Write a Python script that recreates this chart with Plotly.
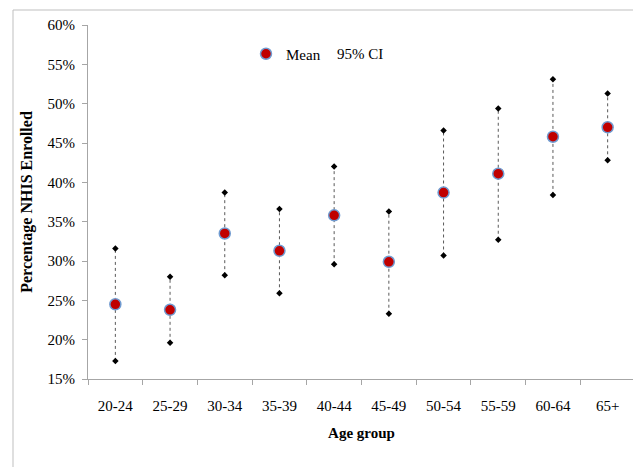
import plotly.graph_objects as go

age_groups = ["20-24", "25-29", "30-34", "35-39", "40-44", "45-49", "50-54", "55-59", "60-64", "65+"]
mean_pct = [24.5, 23.8, 33.5, 31.3, 35.8, 29.9, 38.7, 41.1, 45.8, 47.0]
ci_low = [17.3, 19.6, 28.2, 25.9, 29.6, 23.3, 30.7, 32.7, 38.4, 42.8]
ci_high = [31.6, 28.0, 38.7, 36.6, 42.0, 36.3, 46.6, 49.4, 53.1, 51.3]

# build CI segments from data
ci_x, ci_y = [], []
for c, lo, hi in zip(age_groups, ci_low, ci_high):
    ci_x += [c, c, None]
    ci_y += [lo, hi, None]

serif = "Liberation Serif, Times New Roman, serif"

# page has an 8px body margin; figure coordinates are offset accordingly
W, H = 633, 459
L, R, T, B = 80, 6, 17, 88
PW, PH = W - L - R, H - T - B

fig = go.Figure()
fig.add_trace(go.Scatter(
    x=ci_x, y=ci_y, mode="lines+markers", name="95% CI",
    line=dict(color="#595959", width=1, dash="dot"),
    marker=dict(symbol="diamond", size=5, color="black"),
    showlegend=False, connectgaps=False,
))
fig.add_trace(go.Scatter(
    x=age_groups, y=mean_pct, mode="markers", name="Mean",
    marker=dict(size=11, color="#C00000", line=dict(color="#6F9BD1", width=1.5)),
))

fig.update_layout(
    width=W, height=H,
    margin=dict(l=L, r=R, t=T, b=B),
    paper_bgcolor="white", plot_bgcolor="white",
    font=dict(family=serif, size=15, color="black"),
    showlegend=True,
    legend=dict(x=(238 - L) / PW, y=(T + PH - 46) / PH, xanchor="left", yanchor="middle",
                bgcolor="rgba(0,0,0,0)", font=dict(size=15, family=serif),
                itemwidth=30, tracegroupgap=0),
    xaxis=dict(
        type="category", range=[-0.5, 9.5],
        showline=True, linecolor="#A6A6A6", linewidth=1,
        ticks="outside", ticklen=5, tickcolor="#A6A6A6", tickson="boundaries",
        showgrid=False, zeroline=False,
        ticklabelstandoff=13,
        tickfont=dict(size=15, family=serif),
        title=dict(text="<b>Age group</b>", font=dict(size=15, family=serif), standoff=14),
    ),
    yaxis=dict(
        range=[15, 60], dtick=5, ticksuffix="%",
        showline=True, linecolor="#A6A6A6", linewidth=1,
        ticks="outside", ticklen=5, tickcolor="#A6A6A6",
        showgrid=False, zeroline=False,
        ticklabelstandoff=4,
        tickfont=dict(size=15, family=serif),
        title=dict(text="<b>Percentage NHIS Enrolled</b>", font=dict(size=16, family=serif), standoff=10),
    ),
    shapes=[dict(type="rect", xref="paper", yref="paper",
                 x0=(5 - L) / PW, x1=(631 - L) / PW,
                 y0=-(H + 10 - T - PH) / PH, y1=(T + PH - 2) / PH,
                 line=dict(color="#BFBFBF", width=1))],
    annotations=[dict(text="95% CI", xref="paper", yref="paper",
                      x=(327 - L) / PW, y=(T + PH - 46) / PH,
                      xanchor="left", yanchor="middle", showarrow=False,
                      font=dict(size=15, family=serif))],
)

fig.write_html("out.html")
